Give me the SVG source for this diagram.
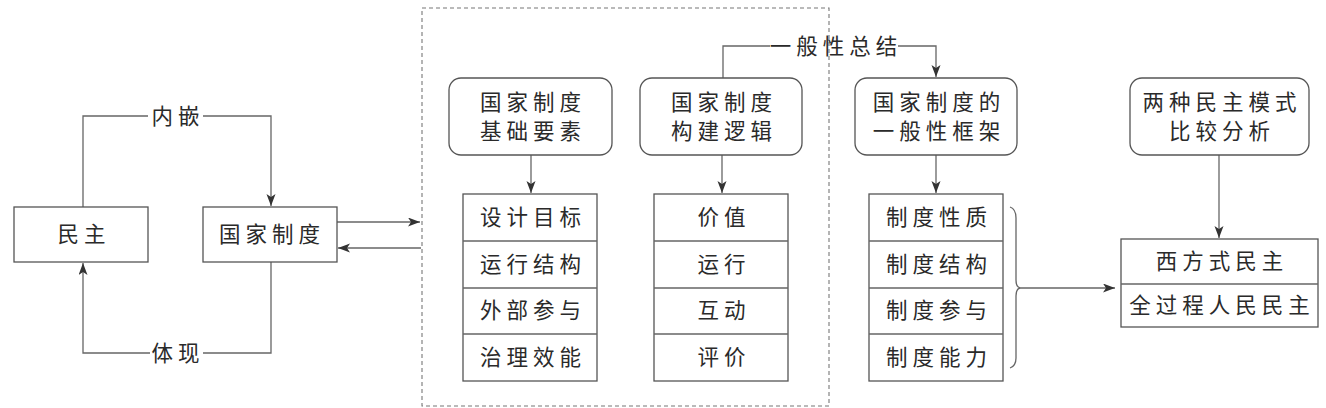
<svg xmlns="http://www.w3.org/2000/svg" width="1326" height="408" viewBox="0 0 1326 408">
<style>
.box{fill:#fff;stroke:#555;stroke-width:1.3}
.ln{fill:none;stroke:#666;stroke-width:1.3}
.t{font-family:"Noto Sans CJK SC","Noto Sans",sans-serif;font-size:21.5px;fill:#2a2a2a;text-anchor:middle;letter-spacing:5px}
</style>
<defs>
<marker id="ar" markerWidth="13" markerHeight="10" refX="12" refY="4.5" orient="auto" markerUnits="userSpaceOnUse">
<path d="M0,0 L12,4.5 L0,9 L3,4.5 Z" fill="#333"/>
</marker>
</defs>
<rect width="1326" height="408" fill="#fff"/>
<rect x="422" y="8" width="407" height="398" fill="none" stroke="#777" stroke-width="1.1" stroke-dasharray="4,3"/>
<g id="connectors">
<path class="ln" d="M83,207 V116 H148 M203,116 H271 V206" marker-end="url(#ar)"/>
<path class="ln" d="M271,262 V353 H203 M150,353 H83 V263" marker-end="url(#ar)"/>
<path class="ln" d="M337,222 H420" marker-end="url(#ar)"/>
<path class="ln" d="M421,248 H338" marker-end="url(#ar)"/>
<path class="ln" d="M531,155 V193" marker-end="url(#ar)"/>
<path class="ln" d="M722,155 V193" marker-end="url(#ar)"/>
<path class="ln" d="M723,78 V46 H770 M898,46 H936 V77" marker-end="url(#ar)"/>
<path class="ln" d="M936,155 V193" marker-end="url(#ar)"/>
<path class="ln" d="M1219,155 V238" marker-end="url(#ar)"/>
<path class="ln" d="M1010,207 Q1016,209 1016,218 L1016,280 Q1016,287 1020,288 Q1016,289 1016,296 L1016,358 Q1016,366 1010,368"/>
<path class="ln" d="M1020,288 H1115" marker-end="url(#ar)"/>
<text class="t" x="178" y="124">内嵌</text>
<text class="t" x="178" y="361">体现</text>
<text class="t" x="836" y="54">一般性总结</text>
</g>
<g id="minzhu">
<rect class="box" x="14" y="207" width="134" height="55"/>
<text class="t" x="84" y="242">民主</text>
</g>
<g id="guojiazhidu">
<rect class="box" x="203" y="207" width="134" height="55"/>
<text class="t" x="272" y="242">国家制度</text>
</g>
<g id="jichuyaosu">
<rect class="box" x="449" y="78" width="163" height="77" rx="12"/>
<text class="t" x="533" y="110">国家制度</text>
<text class="t" x="533" y="139">基础要素</text>
</g>
<g id="goujianluoji">
<rect class="box" x="640" y="78" width="162" height="77" rx="12"/>
<text class="t" x="724" y="110">国家制度</text>
<text class="t" x="724" y="139">构建逻辑</text>
</g>
<g id="yibanxingkuangjia">
<rect class="box" x="855" y="78" width="162" height="77" rx="12"/>
<text class="t" x="939" y="110">国家制度的</text>
<text class="t" x="939" y="139">一般性框架</text>
</g>
<g id="bijiaofenxi">
<rect class="box" x="1130" y="78" width="179" height="77" rx="12"/>
<text class="t" x="1222" y="110">两种民主模式</text>
<text class="t" x="1222" y="139">比较分析</text>
</g>
<g id="stack1">
<rect class="box" x="463" y="194" width="134" height="187"/>
<path class="ln" d="M463,241 H597 M463,288 H597 M463,334 H597"/>
<text class="t" x="533" y="225">设计目标</text>
<text class="t" x="533" y="272">运行结构</text>
<text class="t" x="533" y="318">外部参与</text>
<text class="t" x="533" y="365">治理效能</text>
</g>
<g id="stack2">
<rect class="box" x="654" y="194" width="134" height="187"/>
<path class="ln" d="M654,241 H788 M654,288 H788 M654,334 H788"/>
<text class="t" x="724" y="225">价值</text>
<text class="t" x="724" y="272">运行</text>
<text class="t" x="724" y="318">互动</text>
<text class="t" x="724" y="365">评价</text>
</g>
<g id="stack3">
<rect class="box" x="869" y="194" width="134" height="187"/>
<path class="ln" d="M869,241 H1003 M869,288 H1003 M869,334 H1003"/>
<text class="t" x="939" y="225">制度性质</text>
<text class="t" x="939" y="272">制度结构</text>
<text class="t" x="939" y="318">制度参与</text>
<text class="t" x="939" y="365">制度能力</text>
</g>
<g id="stack4">
<rect class="box" x="1121" y="239" width="197" height="88"/>
<path class="ln" d="M1121,284 H1318"/>
<text class="t" x="1222" y="269">西方式民主</text>
<text class="t" x="1222" y="313">全过程人民民主</text>
</g>
</svg>
